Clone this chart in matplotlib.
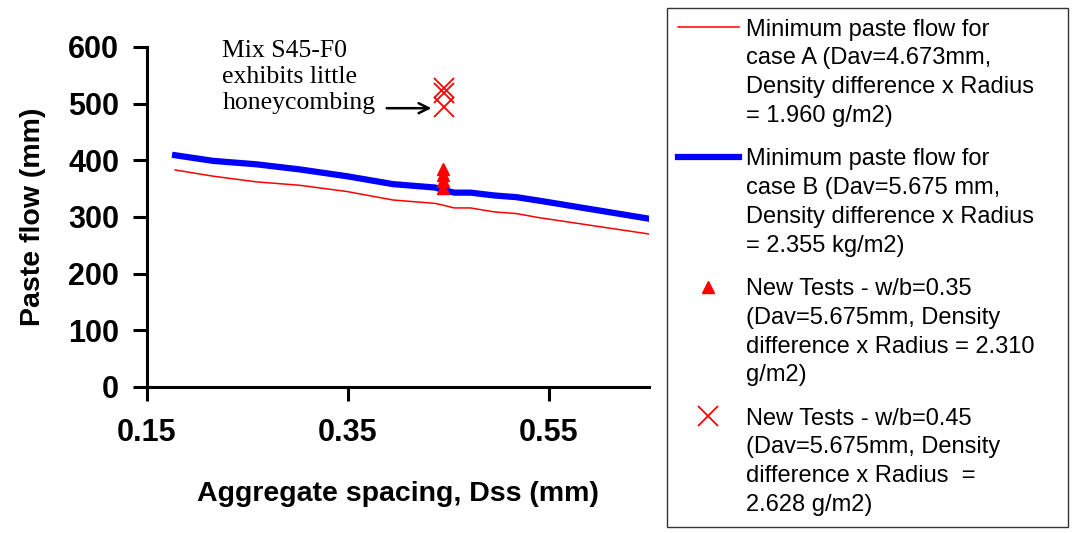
import matplotlib.pyplot as plt
from matplotlib.legend_handler import HandlerLine2D

# %% Data

# aggregate spacing (mm) for the two minimum paste flow curves
x_dss = [0.178, 0.216, 0.259, 0.302, 0.349, 0.395, 0.437, 0.447, 0.456, 0.472, 0.496, 0.518, 0.540, 0.650]
case_a = [383, 372, 362, 356, 345, 330, 324, 320, 316, 316, 309, 306, 299, 270]
case_b = [409, 399, 393, 384, 372, 358, 352, 347, 343, 343, 338, 335, 329, 297]

# new tests
x_wb035 = [0.445, 0.445, 0.445, 0.445]
y_wb035 = [352, 363, 374, 385]
x_wb045 = [0.446, 0.446, 0.446]
y_wb045 = [495, 518, 527]

labels = [
    "Minimum paste flow for\ncase A (Dav=4.673mm,\nDensity difference x Radius\n= 1.960 g/m2)",
    "Minimum paste flow for\ncase B (Dav=5.675 mm,\nDensity difference x Radius\n= 2.355 kg/m2)",
    "New Tests - w/b=0.35\n(Dav=5.675mm, Density\ndifference x Radius = 2.310\ng/m2)",
    "New Tests - w/b=0.45\n(Dav=5.675mm, Density\ndifference x Radius  =\n2.628 g/m2)",
]
note = "Mix S45-F0\nexhibits little\nhoneycombing"

x_ticks = [0.15, 0.35, 0.55]
y_ticks = [0, 100, 200, 300, 400, 500, 600]


# %% Plot

plt.rcParams['font.family'] = ['Liberation Sans', 'DejaVu Sans']

fig = plt.figure(figsize=(10.72, 5.33), dpi=100)
ax = fig.add_axes([147 / 1072, 1 - 387 / 533, 502 / 1072, 340 / 533])

la, = ax.plot(x_dss, case_a, color='#ff0000', lw=1.1, label=labels[0])
lb, = ax.plot(x_dss, case_b, color='#0000ff', lw=4.5, label=labels[1])
lt, = ax.plot(x_wb035, y_wb035, ls='none', marker='^', ms=9, color='#ff0000', label=labels[2])
lx, = ax.plot(x_wb045, y_wb045, ls='none', marker='x', ms=14, mew=1.3, color='#ff0000', label=labels[3])

ax.annotate('', xy=(0.436, 492), xytext=(0.386, 492),
            arrowprops=dict(arrowstyle='->', color='black', lw=1.8, mutation_scale=18))
ax.text(0.225, 547, note, family=['Liberation Serif'], fontsize=18.5,
        ha='left', va='center', linespacing=1.26)

ax.set_xlim(0.15, 0.65)
ax.set_ylim(0, 600)
ax.set_xticks(x_ticks)
ax.set_xticklabels([f"{v:.2f}" for v in x_ticks])
ax.set_yticks(y_ticks)

for s in ['top', 'right']:
    ax.spines[s].set_visible(False)
for s in ['left', 'bottom']:
    ax.spines[s].set_linewidth(2.2)
ax.tick_params(axis='both', direction='out', length=10, width=2.2,
               labelsize=22, pad=10)
for t in ax.get_xticklabels() + ax.get_yticklabels():
    t.set_fontweight('bold')
ax.tick_params(axis='x', pad=12)

ax.set_xlabel("Aggregate spacing, Dss (mm)", fontsize=20.5, fontweight='bold', labelpad=24)
ax.set_ylabel("Paste flow (mm)", fontsize=20.5, fontweight='bold', labelpad=16)

LEG_FS = 17
LINE_SP = 1.4


# handles sit on the first line of each multi-line label
class TopHandler(HandlerLine2D):
    def create_artists(self, legend, orig_handle, xdescent, ydescent,
                       width, height, fontsize, trans):
        arts = super().create_artists(legend, orig_handle, xdescent, ydescent,
                                      width, height, fontsize, trans)
        shift = 1.5 * fontsize * 0.92 * LINE_SP
        for a in arts:
            a.set_ydata([y + shift for y in a.get_ydata()])
        return arts


leg = fig.legend(handles=[la, lb, lt, lx], loc='upper left',
                 bbox_to_anchor=(667 / 1072, 1 - 8 / 533, 401 / 1072, 0.0),
                 mode='expand', fontsize=LEG_FS, frameon=True, fancybox=False,
                 edgecolor='black', handlelength=2.6, handletextpad=0.3,
                 labelspacing=0.9, borderpad=0.45, borderaxespad=0,
                 handler_map={l: TopHandler() for l in [la, lb, lt, lx]})
leg.get_frame().set_linewidth(1.0)
for t in leg.get_texts():
    t.set_linespacing(LINE_SP)

plt.savefig('out.png', dpi=100)
